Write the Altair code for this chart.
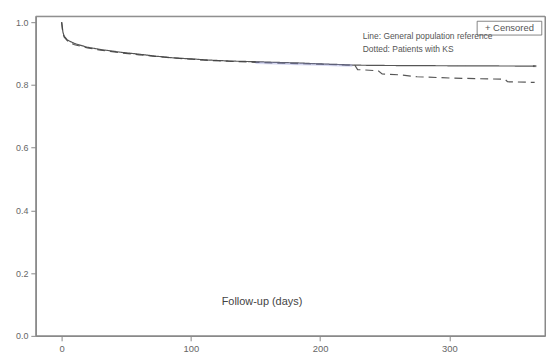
import altair as alt
import pandas as pd

# General population reference (solid)
ref_days = [0, 0.5, 1, 2, 4, 6, 10, 20, 30, 46, 60, 72, 87, 100, 115, 131, 150, 165, 183, 200, 215, 227, 250, 300, 366]
ref_surv = [1.0, 0.985, 0.968, 0.955, 0.945, 0.94, 0.932, 0.92, 0.913, 0.904, 0.898, 0.892, 0.886, 0.883, 0.879, 0.876, 0.874, 0.872, 0.870, 0.867, 0.865, 0.863, 0.862, 0.861, 0.860]

# Patients with KS (dashed)
ks_days = [0, 0.5, 1, 2, 4, 6, 10, 20, 30, 46, 60, 72, 87, 100, 115, 131, 150, 165, 183, 200, 215, 227, 229, 245, 248, 262, 275, 300, 320, 343, 345, 366]
ks_surv = [1.0, 0.98, 0.965, 0.952, 0.943, 0.935, 0.928, 0.918, 0.911, 0.902, 0.896, 0.891, 0.886, 0.882, 0.878, 0.875, 0.872, 0.870, 0.868, 0.866, 0.864, 0.862, 0.849, 0.845, 0.835, 0.832, 0.826, 0.822, 0.82, 0.818, 0.81, 0.808]

x_ticks = [0, 100, 200, 300]
y_ticks = [0.0, 0.2, 0.4, 0.6, 0.8, 1.0]

df = pd.concat([
    pd.DataFrame({"day": ref_days, "surv": ref_surv, "grp": "General population reference"}),
    pd.DataFrame({"day": ks_days, "surv": ks_surv, "grp": "Patients with KS"}),
])

xs = alt.Scale(domain=[-20, 374], nice=False, zero=False)
ys = alt.Scale(domain=[0, 1.019], nice=False)

xaxis = alt.Axis(values=x_ticks, title=None, grid=False, labelFontSize=9.5, labelColor="#666",
                 tickColor="#888", domainColor="#888", tickSize=5, labelPadding=3, labelFont="Liberation Sans")
yaxis = alt.Axis(values=y_ticks, format=".1f", title=None, grid=False, labelFontSize=9, labelColor="#666",
                 tickColor="#888", domainColor="#888", tickSize=5, labelPadding=3, minExtent=25, maxExtent=25,
                 labelFont="Liberation Sans")

frame = alt.Chart(pd.DataFrame({"k": [0]})).mark_rect(fill=None, stroke="#888", strokeWidth=1).encode(
    x=alt.value(0), x2=alt.value(513), y=alt.value(0), y2=alt.value(322))

lines = alt.Chart(df).mark_line(strokeWidth=1.2, color="#444", opacity=0.9).encode(
    x=alt.X("day:Q", scale=xs, axis=xaxis),
    y=alt.Y("surv:Q", scale=ys, axis=yaxis),
    strokeDash=alt.StrokeDash("grp:N", scale=alt.Scale(domain=["General population reference", "Patients with KS"],
                                                      range=[[1, 0], [8, 5]]), legend=None),
    detail="grp:N",
)

# faint bluish band seen on the curve around days 150-225
blue_days = [150, 165, 183, 200, 215, 225]
blue_surv = [0.871, 0.869, 0.867, 0.865, 0.863, 0.862]
blue = alt.Chart(pd.DataFrame({"day": blue_days, "surv": blue_surv})).mark_line(
    strokeWidth=2.5, color="#8a90d8", opacity=0.35).encode(
    x=alt.X("day:Q", scale=xs), y=alt.Y("surv:Q", scale=ys))

ann = pd.DataFrame({
    "day": [233, 233],
    "surv": [0.955, 0.914],
    "txt": ["Line: General population reference", "Dotted: Patients with KS"],
})
texts = alt.Chart(ann).mark_text(align="left", baseline="middle", fontSize=8.5, color="#555",
                                 font="Liberation Sans").encode(
    x=alt.X("day:Q", scale=xs), y=alt.Y("surv:Q", scale=ys), text="txt:N")

cens_lbl = alt.Chart(pd.DataFrame({"day": [346.5], "surv": [0.981], "txt": ["+ Censored"]})).mark_text(
    align="center", baseline="middle", fontSize=9.5, color="#555", font="Liberation Sans").encode(
    x=alt.X("day:Q", scale=xs), y=alt.Y("surv:Q", scale=ys), text="txt:N")

box = alt.Chart(pd.DataFrame({"x1": [321.5], "x2": [371.5], "y1": [0.959], "y2": [1.003]})).mark_rect(
    fill=None, stroke="#666", strokeWidth=0.8).encode(
    x=alt.X("x1:Q", scale=xs), x2="x2:Q", y=alt.Y("y1:Q", scale=ys), y2="y2:Q")

title = alt.Chart(pd.DataFrame({"day": [155], "surv": [0.108], "txt": ["Follow-up (days)"]})).mark_text(
    fontSize=11, color="#444", font="Liberation Sans").encode(
    x=alt.X("day:Q", scale=xs), y=alt.Y("surv:Q", scale=ys), text="txt:N")

cens = alt.Chart(pd.DataFrame({"day": [366], "surv": [0.860]})).mark_point(
    shape="stroke", size=12, color="#444").encode(
    x=alt.X("day:Q", scale=xs), y=alt.Y("surv:Q", scale=ys))

chart = alt.layer(frame, lines, blue, cens, box, texts, cens_lbl, title).properties(
    width=513, height=322,
    padding={"left": 3, "top": 6, "right": 0, "bottom": 0},
).configure(background="white").configure_view(stroke="#888", strokeWidth=1)

chart.save("out.html", embed_options={"renderer": "svg", "actions": False})
